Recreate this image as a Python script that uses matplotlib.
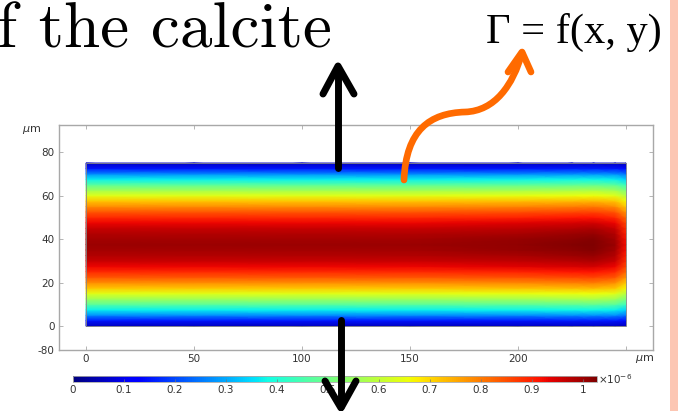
import numpy as np
import matplotlib
matplotlib.use("Agg")
import matplotlib.pyplot as plt
from matplotlib.path import Path
from matplotlib.patches import PathPatch, Rectangle
from matplotlib.cm import ScalarMappable
from matplotlib.colors import Normalize

# Valeurs (concentration, unité 1e-6)
y_pos = [0, 2.5, 5, 7.5, 10, 12.5, 15, 17.5, 20, 22.5, 25, 27.5, 30, 32.5, 35, 37.5,
         40, 42.5, 45, 47.5, 50, 52.5, 55, 57.5, 60, 62.5, 65, 67.5, 70, 72.5, 75]
y_profile = [0.06, 0.15, 0.27, 0.37, 0.47, 0.56, 0.64, 0.72, 0.78, 0.84, 0.89, 0.93,
             0.96, 0.98, 0.995, 1.0, 0.995, 0.98, 0.96, 0.93, 0.89, 0.84, 0.78, 0.72,
             0.64, 0.56, 0.47, 0.37, 0.27, 0.15, 0.06]
x_pos = [0, 50, 100, 150, 200, 225, 235, 245, 250]
x_scale = [1.0, 1.0, 1.0, 1.0, 1.01, 1.02, 1.025, 1.0, 0.92]

x_ticks = [0, 50, 100, 150, 200, 250]
x_ticklabels = ["0", "50", "100", "150", "200", ""]
y_ticks = [-11, 0, 20, 40, 60, 80]
y_ticklabels = ["-80", "0", "20", "40", "60", "80"]
cb_ticks = [0, 0.1, 0.2, 0.3, 0.4, 0.5, 0.6, 0.7, 0.8, 0.9, 1.0]
cb_ticklabels = ["0", "0.1", "0.2", "0.3", "0.4", "0.5", "0.6", "0.7", "0.8", "0.9", "1"]
vmax = 1.0275

W, H = 681, 411
fig = plt.figure(figsize=(W / 100, H / 100), dpi=100)

gris = "#a8a8a8"
texte = "#333333"

# Champ de concentration
ax = fig.add_axes([59 / W, 1 - 350 / H, (653 - 59) / W, (350 - 125) / H])
X, Y = np.meshgrid(x_pos, y_pos)
C = np.outer(y_profile, x_scale)
ax.pcolormesh(X, Y, C, shading="gouraud", cmap="jet", vmin=0, vmax=vmax)
ax.add_patch(Rectangle((0, 0), 250, 75, fill=False, ec="#888888", lw=0.6))
ax.set_xlim(-12.5, 262.5)
ax.set_ylim(-11, 92.5)
ax.set_xticks(x_ticks)
ax.set_xticklabels(x_ticklabels)
ax.set_yticks(y_ticks)
ax.set_yticklabels(y_ticklabels)
ax.tick_params(direction="in", length=3, width=0.6, color=gris, labelcolor=texte,
               labelsize=7.5, top=True, right=True, pad=3)
for s in ax.spines.values():
    s.set_color(gris)
    s.set_linewidth(1.0)
fig.text(22 / W, 1 - 130 / H, r"$\mu$m", fontsize=8, color=texte, ha="left", va="center")
fig.text(635 / W, 1 - 359 / H, r"$\mu$m", fontsize=8, color=texte, ha="left", va="center")

# Barre de couleur
cax = fig.add_axes([73 / W, 1 - 382 / H, (597 - 73) / W, 6 / H])
cb = fig.colorbar(ScalarMappable(norm=Normalize(0, vmax), cmap="jet"), cax=cax,
                  orientation="horizontal")
cb.set_ticks(cb_ticks)
cb.set_ticklabels(cb_ticklabels)
cb.outline.set_edgecolor(gris)
cb.outline.set_linewidth(0.6)
cax.tick_params(direction="in", length=2, width=0.5, color="#777777", labelcolor=texte,
                labelsize=7.5, pad=2)
fig.text(598 / W, 1 - 379 / H, r"$\times10^{-6}$", fontsize=7.5, color=texte,
         ha="left", va="center")

# Calque d'annotations en pixels
ov = fig.add_axes([0, 0, 1, 1], zorder=10)
ov.set_xlim(0, W)
ov.set_ylim(H, 0)
ov.axis("off")
ov.patch.set_alpha(0)

ov.add_patch(Rectangle((670, 0), 8, H, color="#fcc6b3", lw=0))

ov.text(-3, 47, "f the calcite", fontfamily="cmr10", fontsize=47, color="black",
        ha="left", va="baseline")
ov.text(486, 43, "Γ = f(x, y)", fontfamily="Liberation Serif", fontsize=30.5,
        color="black", ha="left", va="baseline")

noir = dict(color="black", lw=5, solid_capstyle="round", solid_joinstyle="round")
ov.plot([338, 338], [168, 68], **noir)
ov.plot([323, 338, 354], [94, 66, 94], **noir)
ov.plot([341, 341], [320, 406], **noir)
ov.plot([325, 341, 356], [381, 408, 381], **noir)

orange = "#ff6a00"
verts = [(404, 180), (406, 130), (430, 113), (465, 112),
         (495, 111), (513, 85), (522, 53)]
codes = [Path.MOVETO, Path.CURVE4, Path.CURVE4, Path.CURVE4,
         Path.CURVE4, Path.CURVE4, Path.CURVE4]
ov.add_patch(PathPatch(Path(verts, codes), fill=False, ec=orange, lw=4.8,
                       capstyle="round", joinstyle="round"))
ov.plot([508, 522, 531], [72, 52, 72], color=orange, lw=4.8,
        solid_capstyle="round", solid_joinstyle="round")

fig.savefig("out.png", dpi=100)
